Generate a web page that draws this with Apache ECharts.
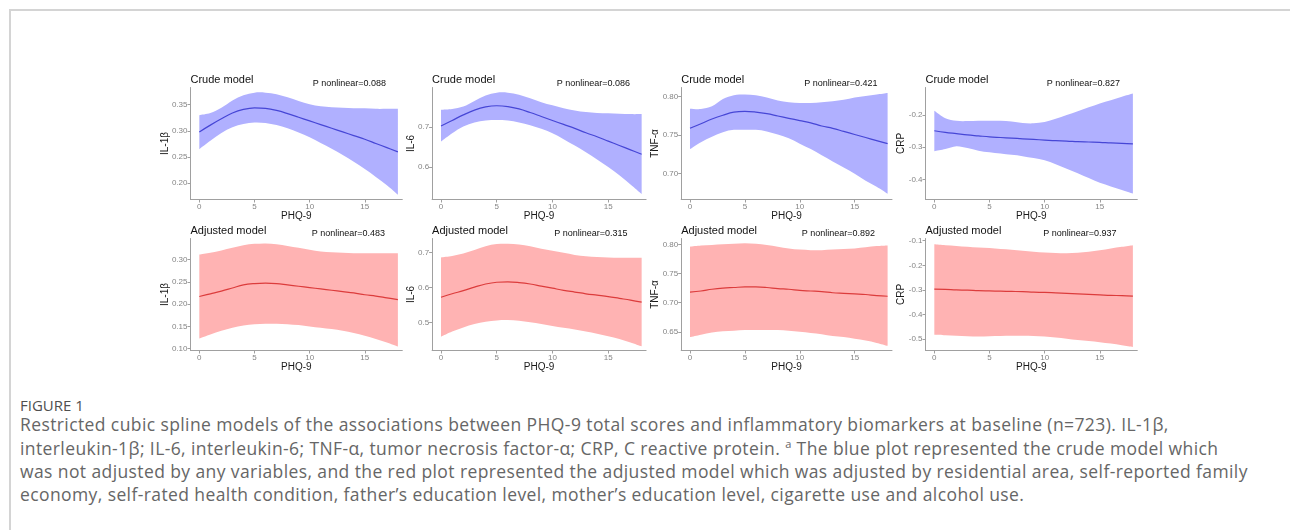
<!DOCTYPE html>
<html><head><meta charset="utf-8">
<script src="https://cdn.jsdelivr.net/npm/echarts@6/dist/echarts.min.js"></script>
<style>
body{margin:0;background:#fff;}
#frame{position:absolute;left:9px;top:9px;width:1290px;height:530px;border-top:2px solid #d4d4d4;border-left:2px solid #d4d4d4;}
#chart{position:absolute;left:0;top:0;width:1290px;height:380px;}
.cap{position:absolute;left:20px;font-family:'Open Sans',sans-serif;color:#666;white-space:nowrap;}
</style></head><body>
<div id="frame"></div>
<div id="chart"></div>
<div class="cap" style="top:396px;font-size:15px;line-height:18px;color:#4f4f4f;">FIGURE 1</div>
<div class="cap" style="top:413.4px;font-size:17.5px;line-height:23.3px;letter-spacing:0.4px;">Restricted cubic spline models of the associations between PHQ-9 total scores and inflammatory biomarkers at baseline (n=723). IL-1β,<br>interleukin-1β; IL-6, interleukin-6; TNF-α, tumor necrosis factor-α; CRP, C reactive protein. <sup style="font-size:11px;line-height:0">a</sup> The blue plot represented the crude model which<br>was not adjusted by any variables, and the red plot represented the adjusted model which was adjusted by residential area, self-reported family<br>economy, self-rated health condition, father’s education level, mother’s education level, cigarette use and alcohol use.</div>
<script>
// ---------- data ----------
const phq = [0,1,2,3,4,5,6,7,8,9,10,11,12,13,14,15,16,17,18];
const xTicks = [0,5,10,15];
const xTickLabels = ['0','5','10','15'];

// Crude model
const il1bCrudeFit   = [0.298,0.311,0.323,0.334,0.341,0.344,0.343,0.339,0.333,0.326,0.319,0.312,0.305,0.298,0.291,0.284,0.276,0.268,0.260];
const il1bCrudeUpper = [0.330,0.334,0.344,0.358,0.368,0.373,0.373,0.370,0.364,0.357,0.351,0.347,0.345,0.344,0.343,0.343,0.342,0.342,0.342];
const il1bCrudeLower = [0.265,0.281,0.296,0.307,0.313,0.316,0.315,0.311,0.305,0.297,0.288,0.277,0.266,0.254,0.241,0.227,0.212,0.196,0.178];

const il6CrudeFit   = [0.703,0.717,0.731,0.743,0.751,0.754,0.752,0.746,0.737,0.727,0.717,0.707,0.697,0.686,0.676,0.665,0.654,0.643,0.632];
const il6CrudeUpper = [0.744,0.746,0.752,0.766,0.780,0.787,0.787,0.782,0.773,0.763,0.755,0.748,0.742,0.738,0.736,0.735,0.734,0.733,0.733];
const il6CrudeLower = [0.664,0.685,0.702,0.712,0.717,0.718,0.717,0.712,0.705,0.696,0.685,0.670,0.654,0.637,0.619,0.600,0.579,0.556,0.532];

const tnfCrudeFit   = [0.759,0.765,0.771,0.776,0.780,0.781,0.780,0.778,0.775,0.772,0.769,0.766,0.762,0.759,0.755,0.751,0.747,0.743,0.739];
const tnfCrudeUpper = [0.7845,0.784,0.7875,0.797,0.802,0.803,0.802,0.799,0.795,0.793,0.792,0.792,0.793,0.794,0.796,0.799,0.801,0.803,0.805];
const tnfCrudeLower = [0.732,0.741,0.748,0.754,0.757,0.757,0.757,0.755,0.751,0.746,0.739,0.732,0.724,0.716,0.708,0.700,0.691,0.683,0.674];

const crpCrudeFit   = [-0.249,-0.254,-0.258,-0.262,-0.265,-0.268,-0.270,-0.272,-0.274,-0.276,-0.278,-0.280,-0.281,-0.283,-0.284,-0.285,-0.287,-0.288,-0.290];
const crpCrudeUpper = [-0.187,-0.210,-0.218,-0.219,-0.218,-0.218,-0.218,-0.220,-0.225,-0.226,-0.222,-0.212,-0.200,-0.188,-0.176,-0.164,-0.154,-0.143,-0.133];
const crpCrudeLower = [-0.313,-0.306,-0.297,-0.303,-0.311,-0.316,-0.320,-0.324,-0.328,-0.334,-0.341,-0.353,-0.367,-0.381,-0.396,-0.411,-0.422,-0.433,-0.444];

// Adjusted model
const il1bAdjFit   = [0.217,0.223,0.229,0.236,0.243,0.246,0.247,0.246,0.243,0.240,0.237,0.234,0.231,0.228,0.225,0.221,0.218,0.214,0.210];
const il1bAdjUpper = [0.311,0.315,0.320,0.326,0.332,0.335,0.336,0.334,0.330,0.326,0.322,0.318,0.316,0.315,0.314,0.314,0.314,0.314,0.314];
const il1bAdjLower = [0.123,0.132,0.140,0.147,0.152,0.155,0.156,0.156,0.155,0.153,0.150,0.147,0.144,0.140,0.135,0.129,0.122,0.114,0.105];

const il6AdjFit   = [0.572,0.582,0.591,0.601,0.610,0.615,0.616,0.614,0.610,0.604,0.598,0.592,0.587,0.582,0.578,0.574,0.569,0.564,0.558];
const il6AdjUpper = [0.686,0.690,0.697,0.707,0.718,0.724,0.725,0.723,0.718,0.711,0.705,0.699,0.693,0.689,0.687,0.686,0.685,0.685,0.685];
const il6AdjLower = [0.459,0.474,0.486,0.496,0.502,0.506,0.507,0.505,0.501,0.496,0.490,0.485,0.480,0.474,0.468,0.461,0.453,0.443,0.432];

const tnfAdjFit   = [0.718,0.720,0.723,0.725,0.726,0.727,0.727,0.726,0.724,0.723,0.721,0.720,0.719,0.717,0.716,0.715,0.714,0.712,0.711];
const tnfAdjUpper = [0.796,0.798,0.799,0.800,0.801,0.802,0.801,0.799,0.796,0.793,0.791,0.790,0.790,0.791,0.792,0.793,0.795,0.797,0.798];
const tnfAdjLower = [0.641,0.645,0.649,0.651,0.652,0.653,0.653,0.653,0.653,0.652,0.650,0.648,0.646,0.643,0.641,0.638,0.635,0.631,0.626];

const crpAdjFit   = [-0.297,-0.298,-0.300,-0.301,-0.303,-0.304,-0.305,-0.306,-0.307,-0.309,-0.310,-0.312,-0.314,-0.316,-0.318,-0.320,-0.322,-0.323,-0.325];
const crpAdjUpper = [-0.114,-0.118,-0.121,-0.125,-0.128,-0.130,-0.134,-0.137,-0.141,-0.145,-0.148,-0.150,-0.151,-0.149,-0.145,-0.139,-0.132,-0.125,-0.118];
const crpAdjLower = [-0.482,-0.484,-0.486,-0.488,-0.489,-0.488,-0.487,-0.486,-0.486,-0.487,-0.489,-0.493,-0.498,-0.503,-0.507,-0.512,-0.518,-0.525,-0.532];

// y tick values and labels
const il1bCrudeTicks = [0.20,0.25,0.30,0.35];       const il1bCrudeTickLabels = ['0.20','0.25','0.30','0.35'];
const il6CrudeTicks  = [0.6,0.7];                   const il6CrudeTickLabels  = ['0.6','0.7'];
const tnfCrudeTicks  = [0.70,0.75,0.80];            const tnfCrudeTickLabels  = ['0.70','0.75','0.80'];
const crpCrudeTicks  = [-0.4,-0.3,-0.2];            const crpCrudeTickLabels  = ['-0.4','-0.3','-0.2'];
const il1bAdjTicks   = [0.10,0.15,0.20,0.25,0.30];  const il1bAdjTickLabels   = ['0.10','0.15','0.20','0.25','0.30'];
const il6AdjTicks    = [0.5,0.6,0.7];               const il6AdjTickLabels    = ['0.5','0.6','0.7'];
const tnfAdjTicks    = [0.65,0.70,0.75,0.80];       const tnfAdjTickLabels    = ['0.65','0.70','0.75','0.80'];
const crpAdjTicks    = [-0.5,-0.4,-0.3,-0.2,-0.1];  const crpAdjTickLabels    = ['-0.5','-0.4','-0.3','-0.2','-0.1'];

const modelTitles = ['Crude model','Adjusted model'];
const yNames = ['IL-1β','IL-6','TNF-α','CRP'];
const pCrude = ['P nonlinear=0.088','P nonlinear=0.086','P nonlinear=0.421','P nonlinear=0.827'];
const pAdj   = ['P nonlinear=0.483','P nonlinear=0.315','P nonlinear=0.892','P nonlinear=0.937'];

// ---------- layout / styles ----------
const FONT = "'Liberation Sans', Arial, sans-serif";
const colLeft  = [190.5, 432.1, 681.2, 925.5];
const colWidth = [211.8, 214.0, 210.8, 211.8];
const yNameGap = [20.5, 16, 20.5, 19.5];
const rowTop = [87.5, 238.5];
const rowHeight = 112;
const titleY = [80, 231];
const pY = [84, 233.5];
const pX = [[312.7, 556.7, 804.3, 1046.7],[311.7, 554.3, 801.7, 1043.3]];
const yRange = [
  [[0.169,0.3828],[0.518,0.800],[0.6665,0.812],[-0.4628,-0.1145]],
  [[0.096,0.347],[0.420,0.740],[0.618,0.810],[-0.546,-0.091]]
];
const styles = [
  {band:'#b0b0ff', line:'#4646d6'},
  {band:'#ffb3b3', line:'#dc3c3c'}
];

const panels = [
  [il1bCrudeFit,il1bCrudeUpper,il1bCrudeLower,il1bCrudeTicks,il1bCrudeTickLabels],
  [il6CrudeFit,il6CrudeUpper,il6CrudeLower,il6CrudeTicks,il6CrudeTickLabels],
  [tnfCrudeFit,tnfCrudeUpper,tnfCrudeLower,tnfCrudeTicks,tnfCrudeTickLabels],
  [crpCrudeFit,crpCrudeUpper,crpCrudeLower,crpCrudeTicks,crpCrudeTickLabels],
  [il1bAdjFit,il1bAdjUpper,il1bAdjLower,il1bAdjTicks,il1bAdjTickLabels],
  [il6AdjFit,il6AdjUpper,il6AdjLower,il6AdjTicks,il6AdjTickLabels],
  [tnfAdjFit,tnfAdjUpper,tnfAdjLower,tnfAdjTicks,tnfAdjTickLabels],
  [crpAdjFit,crpAdjUpper,crpAdjLower,crpAdjTicks,crpAdjTickLabels]
];

function smoothPath(pts){
  let d = '';
  for (let i = 0; i < pts.length - 1; i++) {
    const p0 = pts[Math.max(i-1,0)], p1 = pts[i], p2 = pts[i+1], p3 = pts[Math.min(i+2,pts.length-1)];
    const c1x = p1[0] + (p2[0]-p0[0])/6, c1y = p1[1] + (p2[1]-p0[1])/6;
    const c2x = p2[0] - (p3[0]-p1[0])/6, c2y = p2[1] - (p3[1]-p1[1])/6;
    d += ' C' + c1x + ' ' + c1y + ' ' + c2x + ' ' + c2y + ' ' + p2[0] + ' ' + p2[1];
  }
  return d;
}

const grid = [], xAxis = [], yAxis = [], series = [], graphic = [];
panels.forEach((pd, i) => {
  const r = Math.floor(i/4), c = i % 4;
  const [fit, up, lo, yt, ytl] = pd;
  const st = styles[r];
  grid.push({left: colLeft[c], top: rowTop[r], width: colWidth[c], height: rowHeight, containLabel:false});
  xAxis.push({
    gridIndex:i, type:'value', min:-0.8, max:18.4,
    axisLine:{show:true, onZero:false, lineStyle:{color:'#a0a0a0', width:1}},
    axisTick:{show:true, length:3, customValues:xTicks, lineStyle:{color:'#a0a0a0'}},
    axisLabel:{customValues:xTicks, fontSize:8, color:'#858585', margin:3, fontFamily:FONT,
      formatter:v => xTickLabels[xTicks.indexOf(v)]},
    splitLine:{show:false},
    name:'PHQ-9', nameLocation:'middle', nameGap:11.5, nameMoveOverlap:false,
    nameTextStyle:{fontSize:10, color:'#1a1a1a', fontFamily:FONT}
  });
  yAxis.push({
    gridIndex:i, type:'value', min:yRange[r][c][0], max:yRange[r][c][1],
    axisLine:{show:true, onZero:false, lineStyle:{color:'#a0a0a0', width:1}},
    axisTick:{show:true, length:3, customValues:yt, lineStyle:{color:'#a0a0a0'}},
    axisLabel:{customValues:yt, fontSize:8, color:'#858585', margin:3, fontFamily:FONT,
      formatter:v => { let k = yt.findIndex(t => Math.abs(t - v) < 1e-9); return k >= 0 ? ytl[k] : ''; }},
    splitLine:{show:false},
    name:yNames[c], nameLocation:'middle', nameRotate:90, nameGap:yNameGap[c], nameMoveOverlap:false,
    nameTextStyle:{fontSize:10, color:'#1a1a1a', fontFamily:FONT}
  });
  series.push({
    type:'custom', xAxisIndex:i, yAxisIndex:i, silent:true, z:1, clip:false,
    data: phq.map((x,k) => [x, lo[k], up[k]]),
    encode:{x:0, y:[1,2]},
    renderItem:(params, api) => {
      if (params.dataIndex !== 0) return null;
      const top = phq.map((x,k) => api.coord([x, up[k]]));
      const bot = phq.map((x,k) => api.coord([x, lo[k]])).reverse();
      let d = 'M' + top[0][0] + ' ' + top[0][1] + smoothPath(top);
      d += ' L' + bot[0][0] + ' ' + bot[0][1] + smoothPath(bot) + ' Z';
      return {type:'path', shape:{pathData:d}, style:{fill:st.band, stroke:null}};
    }
  });
  series.push({
    type:'line', xAxisIndex:i, yAxisIndex:i, silent:true, z:2,
    data: phq.map((x,k) => [x, fit[k]]),
    smooth:0.4, symbol:'none', lineStyle:{color:st.line, width:1.2}
  });
  graphic.push({type:'text', silent:true, style:{text:modelTitles[r], x:colLeft[c], y:titleY[r],
    font:'11px ' + FONT, fill:'#111', align:'left', verticalAlign:'middle'}});
  graphic.push({type:'text', silent:true, style:{text:(r===0?pCrude:pAdj)[c], x:pX[r][c], y:pY[r],
    font:'9px ' + FONT, fill:'#111', align:'left', verticalAlign:'middle'}});
});

const chart = echarts.init(document.getElementById('chart'), null, {renderer:'canvas'});
chart.setOption({animation:false, backgroundColor:'transparent', grid, xAxis, yAxis, series, graphic});
</script>
</body></html>
